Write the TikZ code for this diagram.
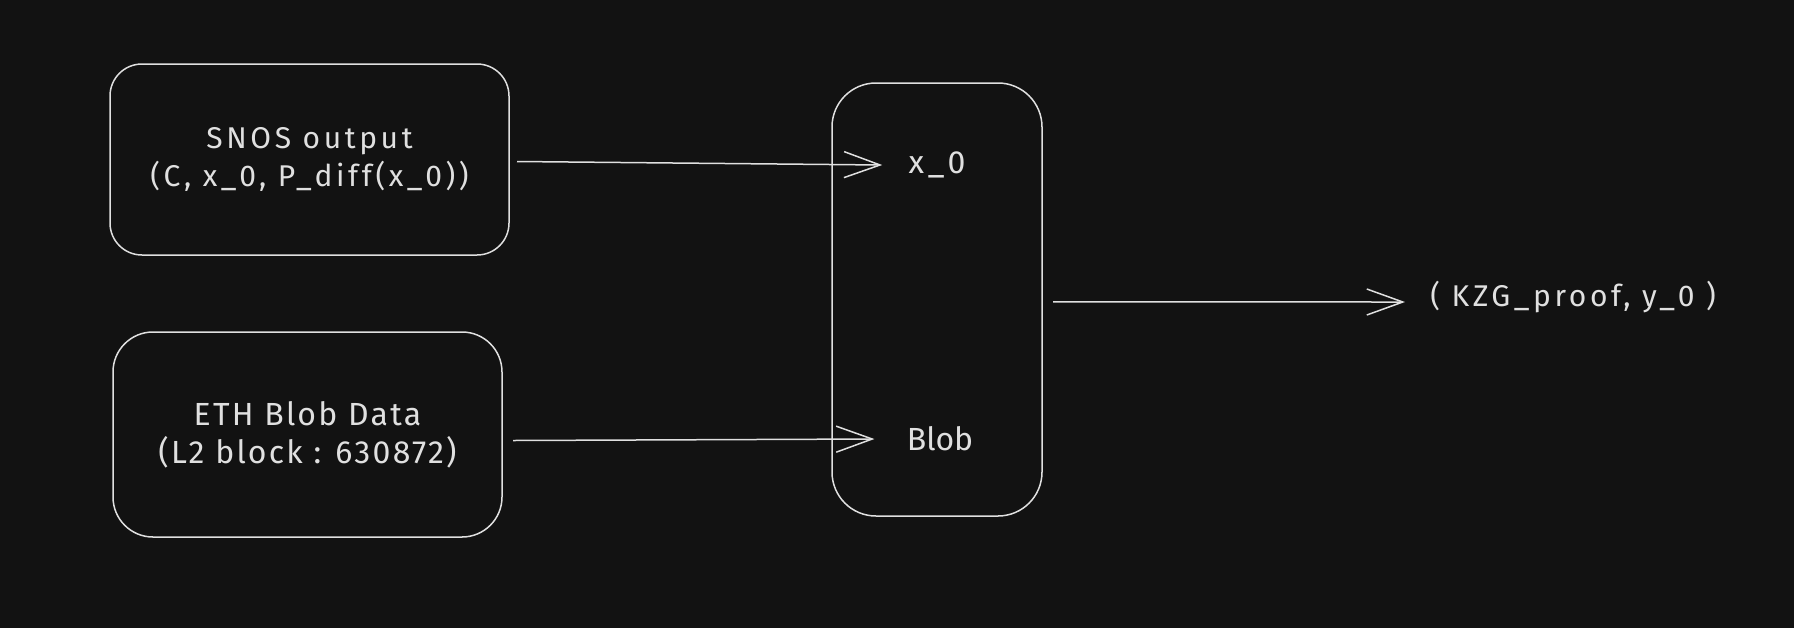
\documentclass[tikz,border=0pt]{standalone}
\usepackage{fontspec}
\setmainfont{Fira Sans}
\newfontfamily\sketchWide[LetterSpace=12]{Fira Sans}
\newfontfamily\sketchMid[LetterSpace=7]{Fira Sans}
\usepackage{tikz}
\usetikzlibrary{positioning,calc,arrows.meta}

\definecolor{bgDark}{HTML}{121212}
\definecolor{inkLight}{HTML}{E0E0E0}

\begin{document}
\begin{tikzpicture}[
    x=0.5pt, y=-0.5pt,
    every node/.style={text=inkLight},
    box/.style={draw=inkLight, line width=0.75pt, inner sep=0pt, outer sep=0pt, align=center},
    boxInput/.style={box, font=\sketchWide\fontsize{15}{19}\selectfont},
    boxData/.style={box, font=\sketchMid\fontsize{16}{19}\selectfont},
    boxProver/.style={box},
    lbl/.style={inner sep=0pt, font=\fontsize{16}{19}\selectfont},
    outLbl/.style={inner sep=0pt, font=\sketchWide\fontsize{15}{18}\selectfont},
    arr/.style={-{Straight Barb[length=18pt, width=13pt]}, draw=inkLight, line width=0.75pt}
  ]
    \fill[bgDark] (0,0) rectangle (1794,628);
    \useasboundingbox (0,0) rectangle (1794,628);

    \node[boxInput, minimum width=199.5pt, minimum height=95.5pt, rounded corners=16pt] (snos) at (309.5,159.5) {SNOS output\\(C, x\_0, P\_diff(x\_0))};
    \node[boxData, minimum width=194.5pt, minimum height=102.5pt, rounded corners=20pt] (eth) at (307.5,434.5) {ETH Blob Data\\(L2 block : 630872)};
    \node[boxProver, minimum width=105pt, minimum height=216.5pt, rounded corners=22pt] (kzg) at (937,299.5) {};

    \node[lbl, font=\sketchWide\fontsize{16}{19}\selectfont] (xin) at (937,165) {x\_0};
    \node[lbl] (blobin) at (940,439) {Blob};
    \node[outLbl, anchor=west] (out) at (1430,297) {( KZG\_proof, y\_0 )};

    \draw[arr] ([xshift=4pt,yshift=-1pt]snos.east) -- ([xshift=-13pt]xin.west);
    \draw[arr] ([xshift=5.5pt,yshift=-3pt]eth.east) -- ([xshift=-16pt]blobin.west);
    \draw[arr] ([xshift=5.5pt,yshift=-1.2pt]kzg.east) -- ([xshift=-12.5pt,yshift=-2.5pt]out.west);
  \end{tikzpicture}
\end{document}
